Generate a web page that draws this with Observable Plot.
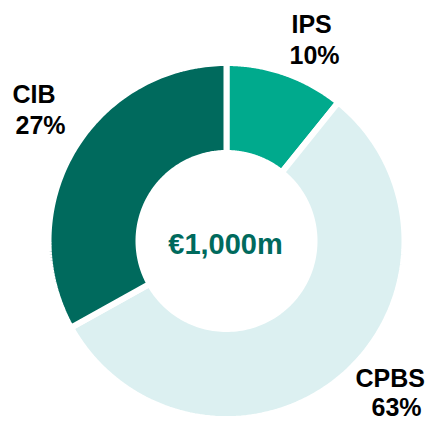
<!DOCTYPE html>
<html>
<head>
<meta charset="utf-8">
<script src="https://cdn.jsdelivr.net/npm/d3@7"></script>
<script src="https://cdn.jsdelivr.net/npm/@observablehq/plot@0.6"></script>
<style>
  html, body { margin: 0; padding: 0; background: #ffffff; }
  #chart { width: 431px; height: 421px; }
</style>
</head>
<body>
<div id="chart"></div>
<script>
// ---- data ----
const segments = ["IPS", "CPBS", "CIB"];
// arc shares as drawn in the picture (clockwise from 12 o'clock)
const arcShares = [10.8, 56.1, 33.1];
// printed percentage labels
const pctLabels = ["10%", "63%", "27%"];
const colors = ["#00aa8d", "#dcf0f1", "#006a5d"];
const totalLabel = "€1,000m";

// ---- layout ----
const W = 431, H = 421;
const cx = 226, cy = 240.5;
const gap = 6;
const R = 175 + gap / 2, r = 91 - gap / 2;

const total = d3.sum(arcShares);
let acc = 0;
const arcs = segments.map((name, i) => {
  const a0 = acc / total * 2 * Math.PI;
  acc += arcShares[i];
  const a1 = acc / total * 2 * Math.PI;
  return {name, a0, a1, color: colors[i], pct: pctLabels[i]};
});

function ringPoints(arc) {
  const n = 120;
  const pts = [];
  for (let k = 0; k <= n; k++) {
    const a = arc.a0 + (arc.a1 - arc.a0) * k / n;
    pts.push({x: cx + R * Math.sin(a), y: cy - R * Math.cos(a)});
  }
  for (let k = n; k >= 0; k--) {
    const a = arc.a0 + (arc.a1 - arc.a0) * k / n;
    pts.push({x: cx + r * Math.sin(a), y: cy - r * Math.cos(a)});
  }
  return pts;
}

// label placement (layout only)
const labelPlace = {
  IPS:  {name: [291, 32], pct: [289, 63]},
  CPBS: {name: [355, 386], pct: [371, 415]},
  CIB:  {name: [12, 102], pct: [15, 133]}
};
const labelRows = [];
arcs.forEach(a => {
  const p = labelPlace[a.name];
  labelRows.push({text: a.name, x: p.name[0], y: p.name[1]});
  labelRows.push({text: a.pct, x: p.pct[0], y: p.pct[1]});
});

const font = "'Liberation Sans', Arial, Helvetica, sans-serif";

const marks = arcs.map(a =>
  Plot.line(ringPoints(a), {
    x: "x", y: "y",
    curve: "linear-closed",
    fill: a.color,
    stroke: "#ffffff",
    strokeWidth: gap,
    strokeLinejoin: "miter"
  })
);

marks.push(
  Plot.text(labelRows, {
    x: "x", y: "y", text: "text",
    textAnchor: "start", lineAnchor: "bottom",
    fontSize: 25, fontWeight: "bold", fontFamily: font,
    fill: "#000000"
  }),
  Plot.text([totalLabel], {
    x: () => cx - 1, y: () => 253, text: d => d,
    textAnchor: "middle", lineAnchor: "bottom",
    fontSize: 29, fontWeight: "bold", fontFamily: font,
    fill: "#006a5d"
  })
);

const chart = Plot.plot({
  width: W, height: H,
  margin: 0,
  x: {domain: [0, W], range: [0, W], axis: null},
  y: {domain: [0, H], range: [0, H], axis: null},
  style: {background: "#ffffff", overflow: "visible"},
  marks
});
document.getElementById("chart").appendChild(chart);
</script>
</body>
</html>
